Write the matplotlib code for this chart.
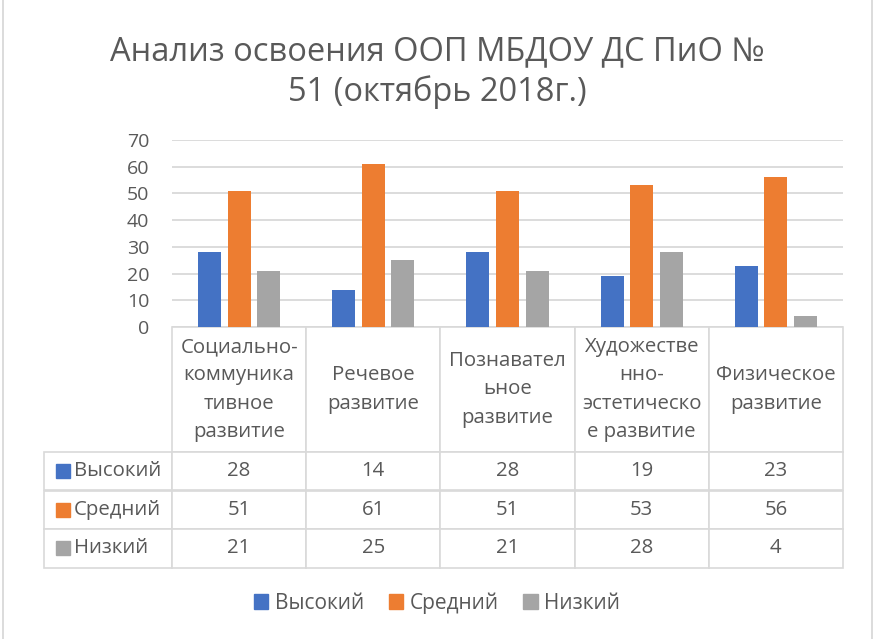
import matplotlib
matplotlib.use('Agg')
import matplotlib.pyplot as plt
import numpy as np
from matplotlib.patches import Rectangle
from matplotlib.lines import Line2D

plt.rcParams['font.family'] = ['Open Sans', 'DejaVu Sans']

# data
categories = ['Социально-\nкоммуника\nтивное\nразвитие',
              'Речевое\nразвитие',
              'Познавател\nьное\nразвитие',
              'Художестве\nнно-\nэстетическо\nе развитие',
              'Физическое\nразвитие']
series = ['Высокий', 'Средний', 'Низкий']
high = [28, 14, 28, 19, 23]
mid = [51, 61, 51, 53, 56]
low = [21, 25, 21, 28, 4]
colors = ['#4472C4', '#ED7D31', '#A5A5A5']
title = 'Анализ освоения ООП МБДОУ ДС ПиО №\n51 (октябрь 2018г.)'

txt_c = '#595959'
grid_c = '#D9D9D9'

W, H = 874, 639
fig = plt.figure(figsize=(W / 100, H / 100), dpi=100)

# plot area in pixels
x0, x1 = 172, 843
y_top, y_bot = 140, 327
ax = fig.add_axes([x0 / W, 1 - y_bot / H, (x1 - x0) / W, (y_bot - y_top) / H])

x = np.arange(len(categories))
bw, step = 0.171, 0.221
vals = [high, mid, low]
for i, (v, c) in enumerate(zip(vals, colors)):
    ax.bar(x + (i - 1) * step, v, width=bw, color=c, zorder=3, label=series[i])

ax.set_xlim(-0.5, len(categories) - 0.5)
ax.set_ylim(0, 70)
ax.set_yticks(range(0, 71, 10))
ax.set_xticks([])
ax.tick_params(axis='y', length=0, pad=16.5, labelsize=14, labelcolor=txt_c)
ax.grid(axis='y', color=grid_c, linewidth=1.3, zorder=0)
for s in ax.spines.values():
    s.set_visible(False)

# data table below the plot
cell_text = [[str(v) for v in row] for row in vals]
lab_w = 125 / (x1 - x0)
ax_h = y_bot - y_top
hdr_h, row_h = 125, 38.5
tot_h = hdr_h + 3 * row_h
# bbox covers the data grid only; row labels hang to the left
tbl = ax.table(cellText=cell_text, rowLabels=series, colLabels=categories,
               cellLoc='center', rowLoc='left',
               bbox=[0, -tot_h / ax_h, 1, tot_h / ax_h])
tbl.auto_set_font_size(False)
tbl.set_fontsize(14.7)
for (r, c), cell in tbl.get_celld().items():
    cell.set_edgecolor(grid_c)
    cell.set_linewidth(1.2)
    cell.get_text().set_color(txt_c)
    cell.set_height(hdr_h if r == 0 else row_h)
    cell.set_width(lab_w if c == -1 else 0.2)
    if r == 0:
        cell.get_text().set_linespacing(1.55)
    if c == -1:
        cell.PAD = 0.232

# coloured keys in the row labels
for i, c in enumerate(colors):
    yc = -(hdr_h + (i + 0.5) * row_h) / ax_h
    sq = 14
    ax.add_patch(Rectangle(((56 - x0) / (x1 - x0), yc - sq / 2 / ax_h),
                           sq / (x1 - x0), sq / ax_h, transform=ax.transAxes,
                           color=c, clip_on=False))

fig.text(0.5, 1 - 72 / H, title, ha='center', va='center', fontsize=23.5,
         color=txt_c, linespacing=1.25)

handles = [Rectangle((0, 0), 1, 1, color=c) for c in colors]
fig.legend(handles, series, loc='center', bbox_to_anchor=(0.5, 1 - 603 / H),
           ncol=3, frameon=False, fontsize=15, labelcolor=txt_c,
           handlelength=0.68, handleheight=0.68, handletextpad=0.3,
           columnspacing=1.2)

# outer chart border (left and right edges)
fig.add_artist(Line2D([2.5 / W, 2.5 / W], [0, 1], color=grid_c, linewidth=1.3))
fig.add_artist(Line2D([871.5 / W, 871.5 / W], [0, 1], color=grid_c, linewidth=1.3))

fig.savefig('out.png', dpi=100)
